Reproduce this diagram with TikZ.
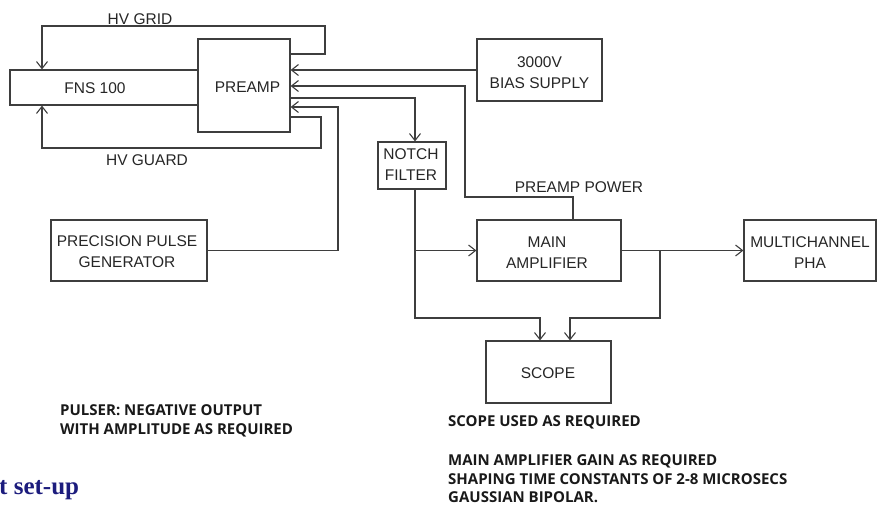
\documentclass[tikz,border=0pt]{standalone}
\usepackage{fontspec}
\setmainfont{Liberation Sans}
\newfontfamily\notefont{Open Sans}
\newfontfamily\capfont{Liberation Serif}
\usetikzlibrary{arrows.meta,calc}
\definecolor{linegray}{RGB}{62,62,62}
\definecolor{capblue}{RGB}{28,28,125}
\tikzset{
  blk/.style={draw=linegray,line width=1.2pt,rectangle,inner sep=0pt},
  lbl/.style={inner sep=0pt,font=\fontsize{15.5}{21}\selectfont,align=center,text=black!85},
  wire/.style={draw=linegray,line width=1.2pt},
  arrw/.style={wire,-{Straight Barb[length=7pt,width=11pt,line width=1.1pt]}},
  note/.style={inner sep=0pt,anchor=base west,font=\notefont\bfseries\fontsize{15}{19}\selectfont,text=black!90}
}
\begin{document}
\begin{tikzpicture}[x=1pt,y=-1pt]
\useasboundingbox (0,0) rectangle (877,504);
% blocks
\node[blk,minimum width=188pt,minimum height=35pt] (fns) at (104,87.5) {};
\node[blk,fill=white,minimum width=92pt,minimum height=93pt] (preamp) at (244,85.5) {};
\node[blk,minimum width=125pt,minimum height=62pt] (bias) at (539.5,70) {};
\node[blk,minimum width=68pt,minimum height=47pt] (notch) at (412,165.5) {};
\node[blk,minimum width=156pt,minimum height=61pt] (pulse) at (129,250.5) {};
\node[blk,minimum width=144pt,minimum height=61pt] (main) at (549,250.5) {};
\node[blk,minimum width=132pt,minimum height=61pt] (multi) at (810,250.5) {};
\node[blk,minimum width=125pt,minimum height=62pt] (scope) at (548.5,372) {};
% block texts
\node[lbl] (fnsT) at (95,88) {FNS 100};
\node[lbl] (preampT) at (247.5,87) {PREAMP};
\node[lbl] (biasT) at (539.5,72.5) {3000V\\BIAS SUPPLY};
\node[lbl] (notchT) at (411,165) {NOTCH\\FILTER};
\node[lbl] (pulseT) at (127,252) {PRECISION PULSE\\GENERATOR};
\node[lbl] (mainT) at (547,252.5) {MAIN\\AMPLIFIER};
\node[lbl] (multiT) at (810,252.5) {MULTICHANNEL\\PHA};
\node[lbl] (scopeT) at (548,373) {SCOPE};
% wire labels
\node[lbl] (gridT) at (140,19) {HV GRID};
\node[lbl] (guardT) at (147,160) {HV GUARD};
\node[lbl] (powT) at (579,187) {PREAMP POWER};
% helper coordinates
\coordinate (c1) at (325,54);
\coordinate (c2) at (42,26);
\coordinate (c3) at (321,117);
\coordinate (c4) at (42,148);
\coordinate (c5) at (573,197);
\coordinate (c6) at (465,86);
\coordinate (c7) at (415,98);
\coordinate (c8) at (338,107);
\coordinate (c9) at (540,318);
\coordinate (c10) at (660,318);
\coordinate (c11) at (570,318);
% connectors
\draw[arrw] (preamp.east |- c1) -- (c1) |- (c2) -- (fns.north -| c2);
\draw[arrw] (preamp.east |- c3) -- (c3) |- (c4) -- (fns.south -| c4);
\draw[arrw] (bias.west) -- (preamp.east |- bias.west);
\draw[arrw] (main.north -| c5) -- (c5) -| (c6) -- (preamp.east |- c6);
\draw[arrw] (preamp.east |- c7) -- (c7) -- (notch.north -| c7);
\draw[arrw] (pulse.east) -| (c8) -- (preamp.east |- c8);
\draw[arrw] (notch.south -| c7) |- (main.west);
\draw[arrw] (notch.south -| c7) |- (c9) -- (scope.north -| c9);
\draw[arrw] (main.east) -- (multi.west);
\draw[arrw] (c10 |- main.east) -- (c10) -- (c11) -- (scope.north -| c11);
% notes
\node[note] (n1) at (60,415) {PULSER: NEGATIVE OUTPUT};
\node[note] (n2) at (60,434) {WITH AMPLITUDE AS REQUIRED};
\node[note] (n3) at (448,426) {SCOPE USED AS REQUIRED};
\node[note] (n4) at (448,465) {MAIN AMPLIFIER GAIN AS REQUIRED};
\node[note] (n5) at (448,484) {SHAPING TIME CONSTANTS OF 2-8 MICROSECS};
\node[note] (n6) at (448,502) {GAUSSIAN BIPOLAR.};
\node[inner sep=0pt,anchor=base west,font=\capfont\bfseries\fontsize{25}{28}\selectfont,text=capblue] (cap) at (-1,494) {t set-up};
\end{tikzpicture}
\end{document}
